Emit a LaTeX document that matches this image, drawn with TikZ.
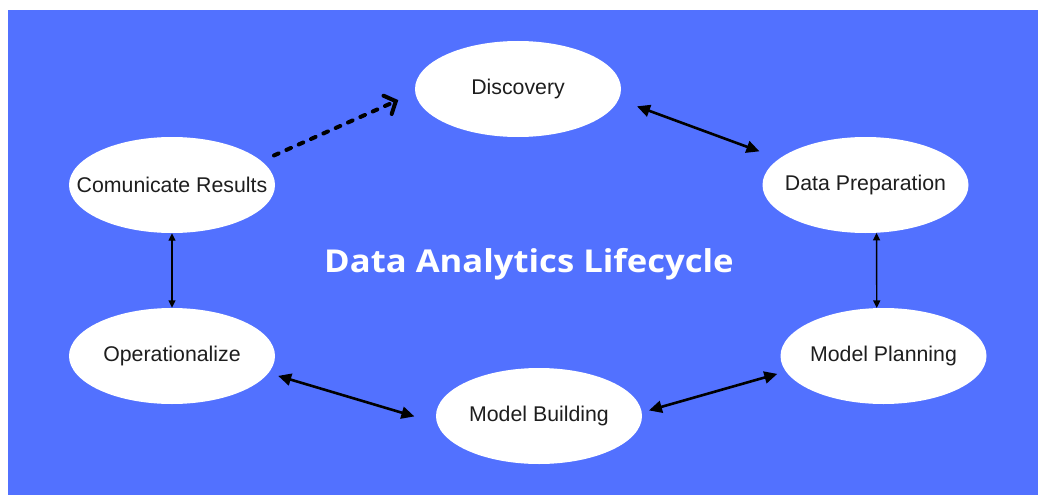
\documentclass[tikz,border=0pt]{standalone}
\usepackage{fontspec}
\setmainfont{Liberation Sans}
\newfontfamily\titlefont{Open Sans}
\usetikzlibrary{shapes.geometric,arrows.meta}
\definecolor{lifeblue}{RGB}{82,113,255}
\definecolor{labelgray}{RGB}{30,30,30}
\newcommand{\phaselabel}[1]{\makebox[0pt]{#1}}

\begin{document}
\begin{tikzpicture}[x=1pt,y=-1pt,
    phase/.style={ellipse,fill=white,minimum width=206pt,minimum height=96pt,inner sep=0pt,
        text=labelgray,font=\fontsize{21.3}{25}\selectfont},
    link/.style={line width=2.6pt,{Triangle[length=13pt,width=12pt]}-{Triangle[length=13pt,width=12pt]}},
    thinlink/.style={line width=1.4pt,{Triangle[length=7.5pt,width=7pt]}-{Triangle[length=7.5pt,width=7pt]}}]
    \useasboundingbox (0,0) rectangle (1038,495);
    \fill[lifeblue] (8,10) rectangle (1038,495);

    \node[phase] (disc) at (518,89) {\phaselabel{Discovery}};
    \node[phase] (prep) at (865.5,185) {\phaselabel{Data Preparation}};
    \node[phase] (plan) at (883.5,356) {\phaselabel{Model Planning}};
    \node[phase] (build) at (539,416) {\phaselabel{Model Building}};
    \node[phase] (oper) at (172,356) {\phaselabel{Operationalize}};
    \node[phase] (comm) at (172,185) {\phaselabel{Comunicate Results}};
    \node[text=white,font=\titlefont\bfseries\fontsize{31.5}{36}\selectfont] (title) at (529,264)
        {\scalebox{1.1}[1]{Data Analytics Lifecycle}};

    \draw[link,shorten <=19.5pt,shorten >=21pt] (disc.-6.4) -- (prep.163.4);
    \draw[thinlink] (prep.-77.6) -- (plan.98.9);
    \draw[link,shorten <=7.3pt,shorten >=8.8pt] (build.2.3) -- (plan.189.8);
    \draw[link,shorten <=10pt,shorten >=23.5pt] (oper.-10) -- (build.184);
    \draw[thinlink] (comm.south) -- (oper.north);
    \draw[line width=4pt,line cap=round,dash pattern=on 5pt off 8.5pt,
        -{Straight Barb[length=9pt,width=20pt,line cap=round]},
        shorten <=13.7pt,shorten >=18.4pt] (comm.15.5) -- (disc.182);
\end{tikzpicture}
\end{document}
